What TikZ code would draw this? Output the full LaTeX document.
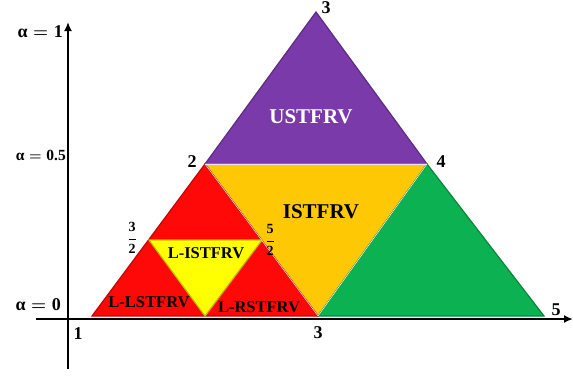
\documentclass[tikz,border=0pt]{standalone}
\usepackage{fontspec}
\setmainfont{Liberation Serif}
\usetikzlibrary{arrows.meta}
\definecolor{cpurple}{RGB}{122,58,170}
\definecolor{corange}{RGB}{255,200,5}
\definecolor{cred}{RGB}{255,8,8}
\definecolor{cgreen}{RGB}{12,178,82}
\definecolor{cyellow}{RGB}{255,255,0}
\tikzset{
  tri/.style={fill=#1, draw=#1!75!black, line width=1.2pt, line join=miter},
  gap/.style={draw=white!85!#1, line width=0.6pt},
  axis/.style={line width=2.6pt, -{Latex[length=9pt,width=8pt]}},
  num/.style={font=\bfseries\fontsize{18}{18}\selectfont, inner sep=0pt},
  alev/.style={font=\bfseries\boldmath\fontsize{18}{18}\selectfont, inner sep=0pt, anchor=east},
  frac/.style={font=\bfseries\boldmath\fontsize{14}{14}\selectfont, inner sep=0pt},
  lbl/.style={font=\bfseries\fontsize{#1}{#1}\selectfont, inner sep=0pt},
}
\begin{document}
\begin{tikzpicture}[x=1pt,y=-1pt]
\useasboundingbox (0,0) rectangle (573,375);
% vertices of the triangular fuzzy numbers
\coordinate (A) at (92,316);
\coordinate (B) at (205,164);
\coordinate (C) at (318,316);
\coordinate (D) at (316,12);
\coordinate (E) at (427,164);
\coordinate (F) at (544,316);
\coordinate (M1) at (149,240);
\coordinate (M2) at (262,240);
\coordinate (M3) at (205,316);
% axes
\coordinate (xs) at (36,319);
\coordinate (xe) at (573,319);
\coordinate (ys) at (68,369);
\coordinate (ye) at (68,22);
% filled triangles
\draw[tri=cpurple] (D) -- (B) -- (E) -- cycle;
\draw[tri=corange] (B) -- (E) -- (C) -- cycle;
\draw[tri=cgreen] (C) -- (E) -- (F) -- cycle;
\draw[tri=cred] (A) -- (B) -- (C) -- cycle;
\draw[tri=cyellow] (M1) -- (M2) -- (M3) -- cycle;
% light seams between neighbouring triangles
\draw[gap=cpurple] (B) -- (E);
\draw[gap=corange] (C) -- (E);
\draw[gap=cred] (B) -- (C);
\draw[axis] (xs) -- (xe);
\draw[axis] (ys) -- (ye);
% region labels
\node[lbl=21, text=white] (u) at (311,117) {USTFRV};
\node[lbl=21] (i) at (321,212) {ISTFRV};
\node[lbl=16.5] (li) at (206,253) {L-ISTFRV};
\node[lbl=16.5] (ll) at (149,302) {L-LSTFRV};
\node[lbl=16.5] (lr) at (259,307) {L-RSTFRV};
% vertex values
\node[num] (n3t) at (326,8) {3};
\node[num] (n2) at (192,162) {2};
\node[num] (n4) at (441,162) {4};
\node[num] (n5) at (556,310) {5};
\node[num] (n3b) at (318,333) {3};
\node[num] (n1) at (78,334) {1};
\node[frac] (h32) at (132,238) {$\displaystyle\frac{\textbf{3}}{\textbf{2}}$};
\node[frac] (h52) at (270,240) {$\displaystyle\frac{\textbf{5}}{\textbf{2}}$};
% alpha levels
\node[alev] (a1) at (63,32) {α${}={}$1};
\node[alev, font=\bfseries\boldmath\fontsize{15.5}{15.5}\selectfont] (a05) at (66,155) {α${}={}$0.5};
\node[alev] (a0) at (61,305) {α${}={}$0};
\end{tikzpicture}
\end{document}
